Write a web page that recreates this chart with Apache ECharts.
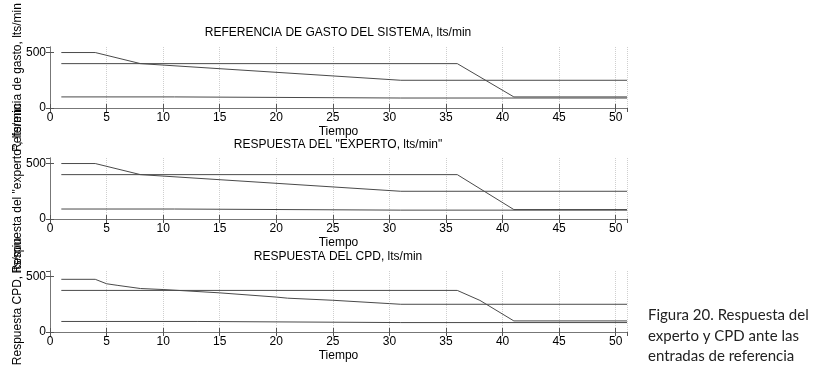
<!DOCTYPE html>
<html>
<head>
<meta charset="utf-8">
<script src="https://cdn.jsdelivr.net/npm/echarts@6/dist/echarts.min.js"></script>
<style>
html, body { margin: 0; background: #fff; }
#chart { width: 827px; height: 375px; }
</style>
</head>
<body>
<div id="chart"></div>
<script>
// Referencia de gasto del sistema
const refAltoT = [1, 4, 8, 31, 51];
const refAltoV = [500, 500, 400, 250, 250];
const refMedioT = [1, 36, 41, 51];
const refMedioV = [400, 400, 100, 100];
const refBajoT = [1, 11, 31, 51];
const refBajoV = [100, 100, 90, 90];

// Respuesta del "experto"
const expAltoT = [1, 4, 8, 31, 51];
const expAltoV = [500, 500, 400, 250, 250];
const expMedioT = [1, 36, 41, 51];
const expMedioV = [400, 400, 85, 85];
const expBajoT = [1, 11, 31, 51];
const expBajoV = [90, 90, 80, 80];

// Respuesta del CPD
const cpdAltoT = [1, 4, 5, 6, 8, 10, 15, 20, 21, 25, 30, 31, 51];
const cpdAltoV = [475, 475, 435, 420, 392, 383, 353, 315, 305, 286, 256, 250, 250];
const cpdMedioT = [1, 36, 38, 41, 51];
const cpdMedioV = [375, 375, 285, 100, 100];
const cpdBajoT = [1, 13, 31, 51];
const cpdBajoV = [95, 95, 85, 85];

const titulos = [
	"REFERENCIA DE GASTO DEL SISTEMA, lts/min",
	'RESPUESTA DEL "EXPERTO, lts/min"',
	"RESPUESTA DEL CPD, lts/min",
];
const etiquetasY = [
	"Referencia de gasto, lts/min",
	'Respuesta del "experto", lts/min',
	"Respuesta CPD, lts/min",
];
const etiquetaX = "Tiempo";
const leyenda = "Figura 20. Respuesta del\nexperto y CPD ante las\nentradas de referencia";

const FONT = "'Liberation Sans', Arial, sans-serif";
const zip = (t, v) => t.map((x, i) => [x, v[i]]);

const paneles = [
	[zip(refAltoT, refAltoV), zip(refMedioT, refMedioV), zip(refBajoT, refBajoV)],
	[zip(expAltoT, expAltoV), zip(expMedioT, expMedioV), zip(expBajoT, expBajoV)],
	[zip(cpdAltoT, cpdAltoV), zip(cpdMedioT, cpdMedioV), zip(cpdBajoT, cpdBajoV)],
];
const tops = [47, 158, 271];
const titleY = [33, 145, 257];

let chart = echarts.init(document.getElementById("chart"));

const grid = tops.map((t) => ({
	left: 50,
	top: t,
	width: 577,
	height: 61,
	outerBoundsMode: "none",
}));

const xAxis = [];
const yAxis = [];
const series = [];
const graphic = [];

paneles.forEach((lineas, i) => {
	// eje inferior e izquierdo
	xAxis.push({
		type: "value",
		gridIndex: i,
		min: 0,
		max: 51,
		interval: 5,
		position: "bottom",
		axisLine: { show: true, lineStyle: { color: "#777", width: 1 } },
		axisTick: { show: true, inside: true, length: 4, lineStyle: { color: "#555" } },
		axisLabel: { color: "#000", fontSize: 12, margin: 4, fontFamily: FONT, showMaxLabel: false },
		splitLine: { show: true, lineStyle: { type: "dotted", color: "#cfcfcf" } },
		name: etiquetaX,
		nameLocation: "middle",
		nameGap: 18,
		nameMoveOverlap: false,
		nameTextStyle: { color: "#000", fontSize: 12, fontFamily: FONT },
	});
	yAxis.push({
		type: "value",
		gridIndex: i,
		min: 0,
		max: 550,
		interval: 500,
		position: "left",
		axisLine: { show: true, lineStyle: { color: "#777", width: 1 } },
		axisTick: { show: true, inside: true, length: 4, lineStyle: { color: "#555" } },
		axisLabel: { color: "#000", fontSize: 12, margin: 4, fontFamily: FONT, showMaxLabel: false },
		splitLine: { show: false },
		name: etiquetasY[i],
		nameLocation: "middle",
		nameRotate: 90,
		nameGap: 26,
		nameMoveOverlap: false,
		nameTextStyle: { color: "#000", fontSize: 12, fontFamily: FONT },
	});
	graphic.push({
		type: "text",
		x: 338,
		y: titleY[i],
		style: {
			text: titulos[i],
			font: "12px " + FONT,
			fill: "#000",
			align: "center",
			verticalAlign: "middle",
		},
	});
	lineas.forEach((d) => {
		series.push({
			type: "line",
			xAxisIndex: i,
			yAxisIndex: i,
			data: d,
			symbol: "none",
			silent: true,
			lineStyle: { color: "#4a4a4a", width: 1 },
		});
	});
});

// caja: ejes superior y derecho con marcas hacia dentro
paneles.forEach((_, i) => {
	xAxis.push({
		type: "value",
		gridIndex: i,
		min: 0,
		max: 51,
		interval: 5,
		position: "top",
		axisLine: { show: true, lineStyle: { color: "#777", width: 1 } },
		axisTick: { show: true, inside: true, length: 4, lineStyle: { color: "#555" } },
		axisLabel: { show: false },
		splitLine: { show: false },
	});
	yAxis.push({
		type: "value",
		gridIndex: i,
		min: 0,
		max: 550,
		interval: 500,
		position: "right",
		axisLine: { show: true, lineStyle: { color: "#777", width: 1 } },
		axisTick: { show: true, inside: true, length: 4, lineStyle: { color: "#555" } },
		axisLabel: { show: false },
		splitLine: { show: false },
	});
});

graphic.push({
	type: "text",
	left: 648,
	top: 305,
	style: {
		text: leyenda,
		font: "15px Lato, 'Open Sans', sans-serif",
		lineHeight: 20.5,
		fill: "#222",
	},
});

const option = {
	animation: false,
	backgroundColor: "#fff",
	grid: grid,
	xAxis: xAxis,
	yAxis: yAxis,
	series: series,
	graphic: graphic,
};

chart.setOption(option);
</script>
</body>
</html>
